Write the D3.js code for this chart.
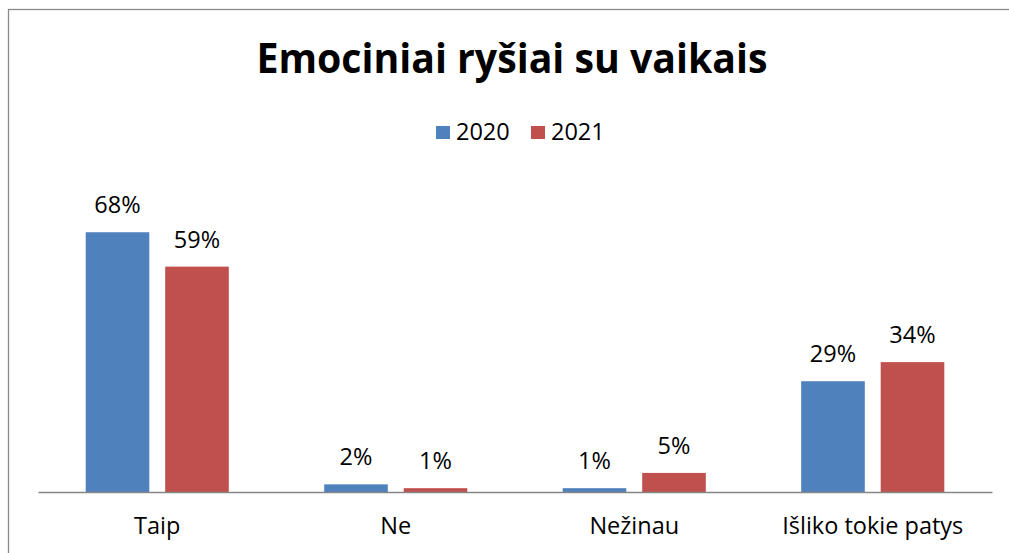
<!DOCTYPE html>
<html>
<head>
<meta charset="utf-8">
<script src="https://cdn.jsdelivr.net/npm/d3@7"></script>
<style>
	body { margin: 0; background: #fff; }
	svg { display: block; }
	text { font-family: "Open Sans", "DejaVu Sans", sans-serif; fill: #000; }
</style>
</head>
<body>
<svg></svg>
<script>
var categories = ["Taip", "Ne", "Nežinau", "Išliko tokie patys"];
var years = ["2020", "2021"];
var values2020 = [0.68, 0.02, 0.01, 0.29];
var values2021 = [0.59, 0.01, 0.05, 0.34];
var colors = ["#4F81BD", "#C0504D"];

var width = 1009, height = 553;
var fontSize = 23.5;
var svg = d3.select("svg").attr("width", width).attr("height", height);

// outer frame, runs off the right and bottom like the original
svg.append("rect")
	.attr("x", 8.5).attr("y", 9.5)
	.attr("width", 1010).attr("height", 560)
	.attr("fill", "white")
	.attr("stroke", "#8a8a8a")
	.attr("stroke-width", 1.3);

// title
svg.append("text")
	.attr("x", 512).attr("y", 73)
	.attr("text-anchor", "middle")
	.attr("font-size", 42)
	.attr("font-weight", "bold")
	.attr("textLength", 511)
	.attr("lengthAdjust", "spacingAndGlyphs")
	.text("Emociniai ryšiai su vaikais");

// legend
var legend = svg.append("g").selectAll("g").data(years).enter().append("g")
	.attr("transform", function(d, i){ return "translate(" + (436 + i * 95) + ",0)"; });
legend.append("rect")
	.attr("x", 0).attr("y", 126)
	.attr("width", 14).attr("height", 13)
	.attr("fill", function(d, i){ return colors[i]; });
legend.append("text")
	.attr("x", 20).attr("y", 140)
	.attr("font-size", fontSize)
	.text(function(d){ return d; });

// scales
var x0 = d3.scaleBand().domain(categories).range([38, 992]).paddingInner(0.4).paddingOuter(0.2);
var x1 = d3.scaleBand().domain(years).range([0, x0.bandwidth()]).paddingInner(0.2);
var y = d3.scaleLinear().domain([0, 0.8]).range([492, 186.4]);

var rows = categories.map(function(c, i){
	return {category: c, values: [
		{year: years[0], value: values2020[i], color: colors[0]},
		{year: years[1], value: values2021[i], color: colors[1]}
	]};
});

var groups = svg.append("g").selectAll("g").data(rows).enter().append("g")
	.attr("transform", function(d){ return "translate(" + x0(d.category) + ",0)"; });

groups.selectAll("rect").data(function(d){ return d.values; }).enter().append("rect")
	.attr("x", function(d){ return x1(d.year); })
	.attr("y", function(d){ return y(d.value); })
	.attr("width", x1.bandwidth())
	.attr("height", function(d){ return y(0) - y(d.value); })
	.attr("fill", function(d){ return d.color; });

groups.selectAll("text").data(function(d){ return d.values; }).enter().append("text")
	.attr("x", function(d){ return x1(d.year) + x1.bandwidth() / 2; })
	.attr("y", function(d){ return y(d.value) - 19; })
	.attr("text-anchor", "middle")
	.attr("font-size", fontSize)
	.text(function(d){ return Math.round(d.value * 100) + "%"; });

// category axis
var axis = svg.append("g")
	.attr("transform", "translate(0," + y(0) + ")")
	.call(d3.axisBottom(x0).tickSize(0).tickSizeOuter(0));
axis.select(".domain").attr("stroke", "#868686").attr("stroke-width", 1.6);
axis.selectAll("text")
	.attr("y", 42).attr("dy", null)
	.attr("font-size", fontSize)
	.style("font-family", "'Open Sans', sans-serif")
	.attr("fill", "#000");
</script>
</body>
</html>
